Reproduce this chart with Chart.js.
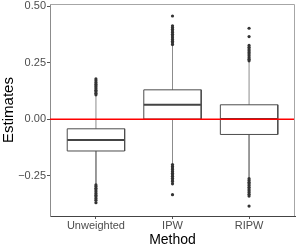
<!DOCTYPE html>
<html>
<head>
<meta charset="utf-8">
<script src="https://cdn.jsdelivr.net/npm/chart.js@4/dist/chart.umd.min.js"></script>
<style>
html,body{margin:0;padding:0;background:#fff;}
#wrap{width:299px;height:249px;}
</style>
</head>
<body>
<div id="wrap"><canvas id="c" width="299" height="249"></canvas></div>
<script>
const categories = ['Unweighted', 'IPW', 'RIPW'];
const q1 = [-0.140, 0.001, -0.067];
const median = [-0.092, 0.064, 0.001];
const q3 = [-0.042, 0.130, 0.064];
const whiskerLow = [-0.287, -0.196, -0.258];
const whiskerHigh = [0.104, 0.326, 0.255];
const outliersUnweighted = [0.108,0.115,0.122,0.128,0.135,0.142,0.148,0.155,0.162,0.170,0.178,
  -0.290,-0.297,-0.305,-0.312,-0.320,-0.328,-0.335,-0.342,-0.350,-0.357,-0.368];
const outliersIPW = [0.330,0.338,0.345,0.352,0.360,0.368,0.375,0.383,0.390,0.398,0.405,0.413,0.456,
  -0.200,-0.208,-0.215,-0.222,-0.230,-0.238,-0.245,-0.252,-0.260,-0.268,-0.275,-0.285,-0.333];
const outliersRIPW = [0.258,0.265,0.272,0.280,0.288,0.295,0.303,0.310,0.318,0.326,0.365,0.402,
  -0.262,-0.270,-0.278,-0.285,-0.292,-0.300,-0.308,-0.315,-0.323,-0.331,-0.339,-0.383];
const outliers = [outliersUnweighted, outliersIPW, outliersRIPW];
const yTicks = [-0.25, 0.00, 0.25, 0.50];
const refLine = 0;

const halfW = 0.375;
const boxPts = [], medPts = [], whiskPts = [], outPts = [];
categories.forEach((c, i) => {
  const x = i + 1;
  boxPts.push({x:x-halfW,y:q1[i]},{x:x-halfW,y:q3[i]},{x:x+halfW,y:q3[i]},{x:x+halfW,y:q1[i]},{x:x-halfW,y:q1[i]},{x:x,y:null});
  medPts.push({x:x-halfW,y:median[i]},{x:x+halfW,y:median[i]},{x:x,y:null});
  whiskPts.push({x:x,y:q3[i]},{x:x,y:whiskerHigh[i]},{x:x+0.01,y:null},{x:x,y:q1[i]},{x:x,y:whiskerLow[i]},{x:x+0.02,y:null});
  outliers[i].forEach(v => outPts.push({x:x,y:v}));
});

const frame = {
  id:'frame',
  afterDatasetsDraw(chart){
    const a = chart.chartArea, ctx = chart.ctx;
    ctx.save();
    ctx.strokeStyle = '#a6a6a6';
    ctx.lineWidth = 1;
    ctx.beginPath();
    ctx.moveTo(a.left, a.top+0.5); ctx.lineTo(a.right-0.5, a.top+0.5); ctx.lineTo(a.right-0.5, a.bottom);
    ctx.stroke();
    ctx.restore();
  }
};

new Chart(document.getElementById('c'), {
  type: 'scatter',
  data: {
    datasets: [
      {data: whiskPts, showLine:true, spanGaps:false, borderColor:'#8c8c8c', borderWidth:1, pointRadius:0, order:3},
      {data: boxPts, showLine:true, spanGaps:false, borderColor:'#4d4d4d', borderWidth:1, pointRadius:0, order:2},
      {data: medPts, showLine:true, spanGaps:false, borderColor:'#444444', borderWidth:2, pointRadius:0, order:2},
      {data: outPts, showLine:false, pointRadius:1.6, pointBackgroundColor:'#333333', pointBorderWidth:0, order:1},
      {data: [{x:0.4,y:refLine},{x:3.6,y:refLine}], showLine:true, borderColor:'#ff0000', borderWidth:1.4, pointRadius:0, order:0}
    ]
  },
  options: {
    responsive:false, animation:false, devicePixelRatio:1,
    plugins:{legend:{display:false}, tooltip:{enabled:false}},
    layout:{padding:{top:3, right:4, left:0, bottom:0}},
    scales:{
      x:{
        type:'linear', min:0.4, max:3.6,
        afterBuildTicks(s){ s.ticks = categories.map((c,i)=>({value:i+1})); },
        ticks:{callback:(v)=>categories[Math.round(v)-1], color:'#4d4d4d', font:{family:'Liberation Sans', size:11}, padding:0, maxRotation:0, autoSkip:false},
        grid:{drawOnChartArea:false, tickLength:3, color:'#555555'},
        border:{color:'#444444', width:1},
        title:{display:true, text:'Method', color:'#000', font:{family:'Liberation Sans', size:14}, padding:{top:0,bottom:0}},
        afterFit(s){ s.height = 33; s.paddingLeft = 0; s.paddingRight = 0; }
      },
      y:{
        type:'linear', min:-0.427, max:0.509,
        afterBuildTicks(s){ s.ticks = yTicks.map(v=>({value:v})); },
        ticks:{callback:(v)=>(v<0?'\u2212':'')+Math.abs(v).toFixed(2), color:'#4d4d4d', font:{family:'Liberation Sans', size:11}, padding:1},
        grid:{drawOnChartArea:false, tickLength:3, color:'#555555'},
        border:{color:'#8c8c8c', width:1},
        title:{display:true, text:'Estimates', color:'#000', font:{family:'Liberation Sans', size:15}, padding:{top:0,bottom:0}},
        afterFit(s){ s.width = 50; s.paddingTop = 0; s.paddingBottom = 0; }
      }
    }
  },
  plugins:[frame]
});
</script>
</body>
</html>
